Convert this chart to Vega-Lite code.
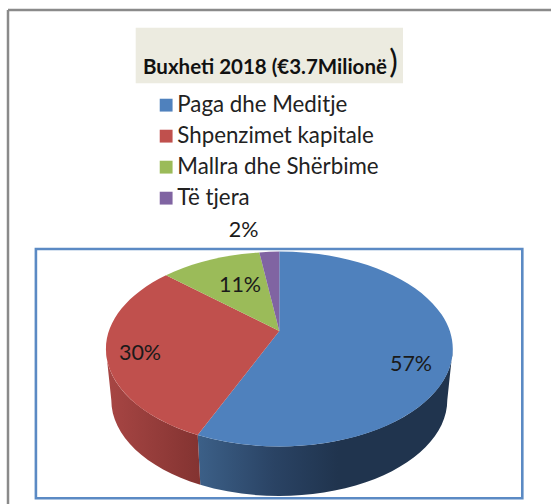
{
  "$schema": "https://vega.github.io/schema/vega-lite/v6.json",
  "width": 551,
  "height": 504,
  "padding": 0,
  "autosize": "none",
  "background": "white",
  "view": {"stroke": null},
  "title": {"text": "Buxheti 2018 (€3.7Milionë", "anchor": "start", "frame": "group", "dx": 143, "dy": 94, "font": "Lato", "fontSize": 20.5, "fontWeight": "bold", "color": "#111111", "baseline": "alphabetic", "offset": 0},
  "data": {"values": [
    {"category": "Paga dhe Meditje", "value": 57, "label": "57%"},
    {"category": "Shpenzimet kapitale", "value": 30, "label": "30%"},
    {"category": "Mallra dhe Shërbime", "value": 11, "label": "11%"},
    {"category": "Të tjera", "value": 2, "label": "2%"}
  ]},
  "layer": [
    {"data": {"values": [{"part": "frame"}]}, "mark": {"type": "point", "filled": false, "opacity": 1, "size": 4, "stroke": "#8a8a8a", "strokeWidth": 2.5, "shape": "M-267.5,-242 L280,-242 M-267.5,-242 L-267.5,260"}},
    {"data": {"values": [{"part": "title panel"}]}, "mark": {"type": "point", "filled": true, "opacity": 1, "size": 4, "fill": "#ecebe0", "shape": "M-139.8,-224.3 L127.5,-224.3 L127.5,-168.7 L-139.8,-168.7 Z"}},
    {"data": {"values": [{"part": "plot frame"}]}, "mark": {"type": "point", "filled": false, "opacity": 1, "size": 4, "stroke": "#5b8ac4", "strokeWidth": 2.6, "shape": "M-239.6,-3 L246.8,-3 L246.8,246.3 L-239.6,246.3 Z"}},
    {"transform": [{"filter": "datum.value == 57"}], "mark": {"type": "point", "filled": true, "opacity": 1, "size": 4, "shape": "M177.2,97 A173.4,97.5 0 0 1 -77.8,183 L-75.2,232.7 A168,96 0 0 0 171.8,148 Z", "fill": {"gradient": "linear", "x1": 0, "y1": 0, "x2": 1, "y2": 0, "stops": [{"offset": 0, "color": "#3c6088"}, {"offset": 0.3, "color": "#2a4364"}, {"offset": 0.55, "color": "#20344e"}, {"offset": 1, "color": "#20344e"}]}}},
    {"transform": [{"filter": "datum.value == 30"}], "mark": {"type": "point", "filled": true, "opacity": 1, "size": 4, "shape": "M-77.8,183 A173.4,97.5 0 0 1 -169.6,97 L-164.2,148 A168,96 0 0 0 -75.2,232.7 Z", "fill": {"gradient": "linear", "x1": 0, "y1": 0, "x2": 1, "y2": 0, "stops": [{"offset": 0, "color": "#a84644"}, {"offset": 0.6, "color": "#923b39"}, {"offset": 1, "color": "#833331"}]}}},
    {"transform": [{"filter": "datum.value == 57"}],
      "mark": {"type": "point", "filled": true, "opacity": 1, "size": 4, "shape": "M3.8,79 L3.8,-0.5 A173.4,97.5 0 1 1 -77.8,183 Z"},
      "encoding": {
        "color": {"field": "category", "type": "nominal", "sort": null,
          "scale": {"domain": ["Paga dhe Meditje", "Shpenzimet kapitale", "Mallra dhe Shërbime", "Të tjera"], "range": ["#4f81bd", "#c0504d", "#9bbb59", "#8064a2"]},
          "legend": {"title": null, "orient": "none", "legendX": 155, "legendY": 94, "symbolType": "square", "symbolSize": 165, "symbolOpacity": 1, "symbolStrokeWidth": 0, "labelFont": "Lato", "labelFontSize": 22.3, "labelColor": "#222222", "labelLimit": 300, "rowPadding": 8, "labelOffset": 0}}
      }
    },
    {"transform": [{"filter": "datum.value == 30"}],
      "mark": {"type": "point", "filled": true, "opacity": 1, "size": 4, "shape": "M3.8,79 L-77.8,183 A173.4,97.5 0 0 1 -109.5,23.2 Z"},
      "encoding": {"color": {"field": "category", "type": "nominal", "sort": null}}},
    {"transform": [{"filter": "datum.value == 11"}],
      "mark": {"type": "point", "filled": true, "opacity": 1, "size": 4, "shape": "M3.8,79 L-109.5,23.2 A173.4,97.5 0 0 1 -16.2,0.4 Z"},
      "encoding": {"color": {"field": "category", "type": "nominal", "sort": null}}},
    {"transform": [{"filter": "datum.value == 2"}],
      "mark": {"type": "point", "filled": true, "opacity": 1, "size": 4, "shape": "M3.8,79 L-16.2,0.4 A173.4,97.5 0 0 1 3.8,-0.5 Z"},
      "encoding": {"color": {"field": "category", "type": "nominal", "sort": null}}},
    {"transform": [{"filter": "datum.value == 57"}], "mark": {"type": "text", "dx": 135.5, "dy": 113, "font": "Lato", "fontSize": 21.5, "color": "#1a1a1a"}, "encoding": {"text": {"field": "label"}}},
    {"transform": [{"filter": "datum.value == 30"}], "mark": {"type": "text", "dx": -135.5, "dy": 102, "font": "Lato", "fontSize": 21.5, "color": "#1a1a1a"}, "encoding": {"text": {"field": "label"}}},
    {"transform": [{"filter": "datum.value == 11"}], "mark": {"type": "text", "dx": -35.5, "dy": 34, "font": "Lato", "fontSize": 21.5, "color": "#1a1a1a"}, "encoding": {"text": {"field": "label"}}},
    {"transform": [{"filter": "datum.value == 2"}], "mark": {"type": "text", "dx": -32, "dy": -21, "font": "Lato", "fontSize": 21.5, "color": "#1a1a1a"}, "encoding": {"text": {"field": "label"}}},
    {"data": {"values": [{"paren": ")"}]}, "mark": {"type": "text", "dx": 118, "dy": -189, "font": "Lato", "fontSize": 32, "color": "#111111"}, "encoding": {"text": {"field": "paren"}}}
  ]
}
